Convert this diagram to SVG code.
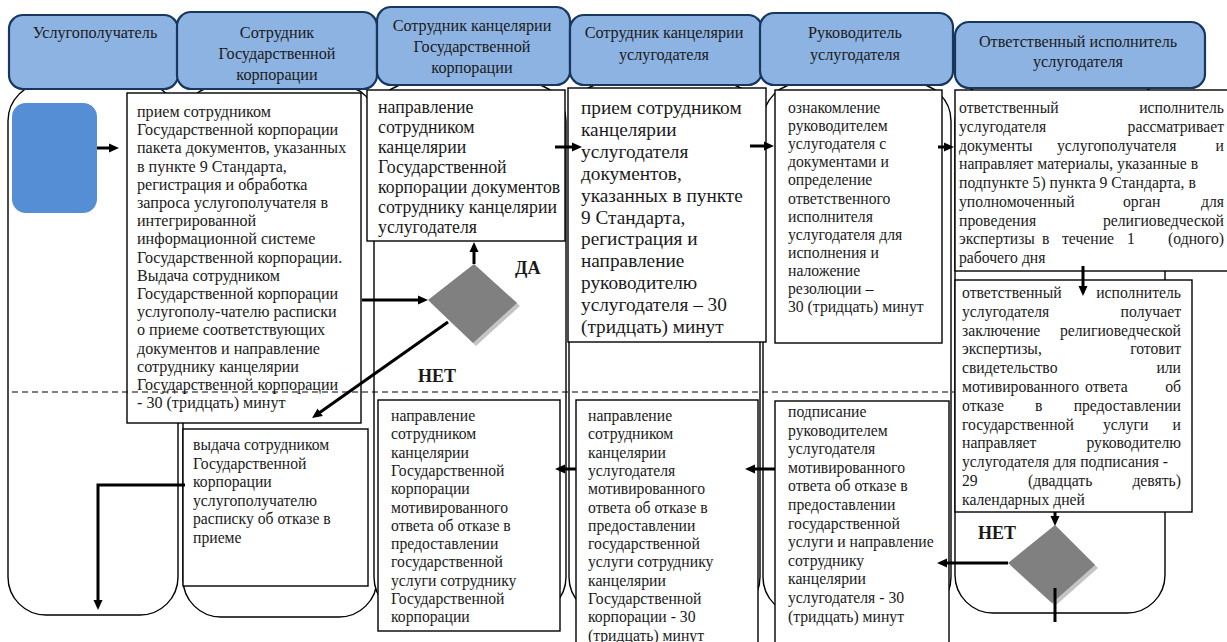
<svg xmlns="http://www.w3.org/2000/svg" width="1227" height="642" viewBox="0 0 1227 642">
<style>
.lane{fill:#fff;stroke:#000;stroke-width:1.4}
.hdr{fill:#8DB3E2;stroke:#17375E;stroke-width:2.2}
.ht{font-family:'Liberation Serif','Times New Roman','DejaVu Serif',serif;font-size:16.2px;fill:#1a1a1a;text-anchor:middle}
.box{fill:#fff;stroke:#000;stroke-width:1.4}
.t{font-family:'Liberation Serif','Times New Roman','DejaVu Serif',serif;font-size:15.7px;fill:#1a1a1a}
.t1{font-family:'Liberation Serif','Times New Roman','DejaVu Serif',serif;font-size:16.1px;fill:#1a1a1a}
.t3{font-family:'Liberation Serif','Times New Roman','DejaVu Serif',serif;font-size:17.8px;fill:#1a1a1a}
.t4{font-family:'Liberation Serif','Times New Roman','DejaVu Serif',serif;font-size:19.3px;fill:#1a1a1a}
.e{text-anchor:end}
.c{fill:none;stroke:#000;stroke-width:3}
.lbl{font-family:'Liberation Serif','Times New Roman','DejaVu Serif',serif;font-size:18px;font-weight:bold;fill:#1a1a1a}
.dia{fill:#808080}
.sh{fill:#C4C4C4}
</style>
<defs>
<marker id="ah" markerUnits="userSpaceOnUse" viewBox="0 0 10 10" markerWidth="10" markerHeight="10" refX="1" refY="5" orient="auto">
<path d="M0,0.5 L10,5 L0,9.5 z" fill="#000"/>
</marker>
</defs>

<g id="lanes">
<rect class="lane" x="8" y="83" width="170" height="532" rx="38"/>
<rect class="lane" x="183" y="85" width="194" height="532" rx="38"/>
<rect class="lane" x="374" y="83" width="192" height="532" rx="38"/>
<rect class="lane" x="569" y="83" width="191" height="532" rx="38"/>
<rect class="lane" x="763" y="83" width="188" height="532" rx="38"/>
<rect class="lane" x="955" y="83" width="210" height="530" rx="38"/>
</g>

<g id="headers">
<g id="h1"><rect class="hdr" x="9" y="15" width="169" height="74" rx="14"/><text class="ht" x="95" y="38">Услугополучатель</text></g>
<g id="h2"><rect class="hdr" x="177" y="12" width="200" height="77" rx="14"/><text class="ht" x="277" y="38">Сотрудник<tspan x="277" dy="21">Государственной</tspan><tspan x="277" dy="21">корпорации</tspan></text></g>
<g id="h3"><rect class="hdr" x="377" y="7" width="193" height="78" rx="14"/><text class="ht" x="472" y="31">Сотрудник канцелярии<tspan x="472" dy="21">Государственной</tspan><tspan x="472" dy="21">корпорации</tspan></text></g>
<g id="h4"><rect class="hdr" x="570" y="15" width="192" height="70" rx="14"/><text class="ht" x="664" y="38">Сотрудник канцелярии<tspan x="664" dy="22">услугодателя</tspan></text></g>
<g id="h5"><rect class="hdr" x="760" y="13" width="193" height="72" rx="14"/><text class="ht" x="855" y="38">Руководитель<tspan x="855" dy="22">услугодателя</tspan></text></g>
<g id="h6"><rect class="hdr" x="955" y="22" width="250" height="66" rx="14"/><text class="ht" x="1078" y="47">Ответственный исполнитель<tspan x="1078" dy="20">услугодателя</tspan></text></g>
</g>

<g id="start"><rect x="12" y="103" width="85" height="110" rx="14" fill="#558ED5"/></g>

<g id="n1"><rect class="box" x="127" y="93" width="234" height="330"/>
<text class="t1" x="137" y="117">прием сотрудником<tspan x="137" dy="18.2">Государственной корпорации</tspan><tspan x="137" dy="18.2">пакета документов, указанных</tspan><tspan x="137" dy="18.2">в пункте 9 Стандарта,</tspan><tspan x="137" dy="18.2">регистрация и обработка</tspan><tspan x="137" dy="18.2">запроса услугополучателя в</tspan><tspan x="137" dy="18.2">интегрированной</tspan><tspan x="137" dy="18.2">информационной системе</tspan><tspan x="137" dy="18.2">Государственной корпорации.</tspan><tspan x="137" dy="18.2">Выдача сотрудником</tspan><tspan x="137" dy="18.2">Государственной корпорации</tspan><tspan x="137" dy="18.2">услугополу-чателю расписки</tspan><tspan x="137" dy="18.2">о приеме соответствующих</tspan><tspan x="137" dy="18.2">документов и направление</tspan><tspan x="137" dy="18.2">сотруднику канцелярии</tspan><tspan x="137" dy="18.2">Государственной корпорации</tspan><tspan x="137" dy="18.2">- 30 (тридцать) минут</tspan></text></g>

<g id="n2"><rect class="box" x="183" y="429" width="185" height="157"/>
<text class="t" x="193" y="450">выдача сотрудником<tspan x="193" dy="18.6">Государственной</tspan><tspan x="193" dy="18.6">корпорации</tspan><tspan x="193" dy="18.6">услугополучателю</tspan><tspan x="193" dy="18.6">расписку об отказе в</tspan><tspan x="193" dy="18.6">приеме</tspan></text></g>

<g id="n3"><rect class="box" x="367" y="90" width="198" height="151"/>
<text class="t3" x="378" y="113">направление<tspan x="378" dy="20">сотрудником</tspan><tspan x="378" dy="20">канцелярии</tspan><tspan x="378" dy="20">Государственной</tspan><tspan x="378" dy="20">корпорации документов</tspan><tspan x="378" dy="20">сотруднику  канцелярии</tspan><tspan x="378" dy="20">услугодателя</tspan></text></g>

<g id="n4"><rect class="box" x="378" y="400" width="182" height="231"/>
<text class="t" x="391" y="421">направление<tspan x="391" dy="18.3">сотрудником</tspan><tspan x="391" dy="18.3">канцелярии</tspan><tspan x="391" dy="18.3">Государственной</tspan><tspan x="391" dy="18.3">корпорации</tspan><tspan x="391" dy="18.3">мотивированного</tspan><tspan x="391" dy="18.3">ответа об отказе в</tspan><tspan x="391" dy="18.3">предоставлении</tspan><tspan x="391" dy="18.3">государственной</tspan><tspan x="391" dy="18.3">услуги сотруднику</tspan><tspan x="391" dy="18.3">Государственной</tspan><tspan x="391" dy="18.3">корпорации</tspan></text></g>

<g id="n5"><rect class="box" x="568" y="88" width="198" height="254"/>
<text class="t4" x="581" y="114">прием сотрудником<tspan x="581" dy="21.9">канцелярии</tspan><tspan x="581" dy="21.9">услугодателя</tspan><tspan x="581" dy="21.9">документов,</tspan><tspan x="581" dy="21.9">указанных в пункте</tspan><tspan x="581" dy="21.9">9 Стандарта,</tspan><tspan x="581" dy="21.9">регистрация и</tspan><tspan x="581" dy="21.9">направление</tspan><tspan x="581" dy="21.9">руководителю</tspan><tspan x="581" dy="21.9">услугодателя – 30</tspan><tspan x="581" dy="21.9">(тридцать) минут</tspan></text></g>

<g id="n6"><rect class="box" x="576" y="400" width="182" height="250"/>
<text class="t" x="588" y="421">направление<tspan x="588" dy="18.3">сотрудником</tspan><tspan x="588" dy="18.3">канцелярии</tspan><tspan x="588" dy="18.3">услугодателя</tspan><tspan x="588" dy="18.3">мотивированного</tspan><tspan x="588" dy="18.3">ответа об отказе в</tspan><tspan x="588" dy="18.3">предоставлении</tspan><tspan x="588" dy="18.3">государственной</tspan><tspan x="588" dy="18.3">услуги сотруднику</tspan><tspan x="588" dy="18.3">канцелярии</tspan><tspan x="588" dy="18.3">Государственной</tspan><tspan x="588" dy="18.3">корпорации - 30</tspan><tspan x="588" dy="18.3">(тридцать) минут</tspan></text></g>

<g id="n7"><rect class="box" x="775" y="90" width="167" height="253"/>
<text class="t" x="788" y="113">ознакомление<tspan x="788" dy="18.1">руководителем</tspan><tspan x="788" dy="18.1">услугодателя с</tspan><tspan x="788" dy="18.1">документами и</tspan><tspan x="788" dy="18.1">определение</tspan><tspan x="788" dy="18.1">ответственного</tspan><tspan x="788" dy="18.1">исполнителя</tspan><tspan x="788" dy="18.1">услугодателя для</tspan><tspan x="788" dy="18.1">исполнения и</tspan><tspan x="788" dy="18.1">наложение</tspan><tspan x="788" dy="18.1">резолюции –</tspan><tspan x="788" dy="18.1">30 (тридцать) минут</tspan></text></g>

<g id="n8"><rect class="box" x="775" y="401" width="174" height="250"/>
<text class="t" x="788" y="417">подписание<tspan x="788" dy="18.6">руководителем</tspan><tspan x="788" dy="18.6">услугодателя</tspan><tspan x="788" dy="18.6">мотивированного</tspan><tspan x="788" dy="18.6">ответа об отказе в</tspan><tspan x="788" dy="18.6">предоставлении</tspan><tspan x="788" dy="18.6">государственной</tspan><tspan x="788" dy="18.6">услуги и направление</tspan><tspan x="788" dy="18.6">сотруднику</tspan><tspan x="788" dy="18.6">канцелярии</tspan><tspan x="788" dy="18.6">услугодателя - 30</tspan><tspan x="788" dy="18.6">(тридцать) минут</tspan></text></g>

<g id="n9"><rect class="box" x="955" y="90" width="290" height="181"/>
<g class="t">
<text x="959" y="113">ответственный</text><text class="e" x="1224" y="113">исполнитель</text>
<text x="959" y="131.75">услугодателя</text><text class="e" x="1224" y="131.75">рассматривает</text>
<text x="959" y="150.5">документы</text><text x="1057" y="150.5">услугополучателя</text><text class="e" x="1224" y="150.5">и</text>
<text x="959" y="169.25">направляет материалы, указанные в</text>
<text x="959" y="188">подпункте 5) пункта 9 Стандарта, в</text>
<text x="959" y="206.75">уполномоченный</text><text x="1123" y="206.75">орган</text><text class="e" x="1224" y="206.75">для</text>
<text x="959" y="225.5">проведения</text><text class="e" x="1224" y="225.5">религиоведческой</text>
<text x="959" y="244.25">экспертизы</text><text x="1042" y="244.25">в</text><text x="1062" y="244.25">течение</text><text x="1127" y="244.25">1</text><text class="e" x="1224" y="244.25">(одного)</text>
<text x="959" y="263">рабочего дня</text>
</g></g>

<g id="n10"><rect class="box" x="955" y="280" width="237" height="232"/>
<g class="t">
<text x="962" y="298">ответственный</text><text class="e" x="1181" y="298">исполнитель</text>
<text x="962" y="316.8">услугодателя</text><text class="e" x="1181" y="316.8">получает</text>
<text x="962" y="335.6">заключение</text><text class="e" x="1181" y="335.6">религиоведческой</text>
<text x="962" y="354.4">экспертизы,</text><text class="e" x="1181" y="354.4">готовит</text>
<text x="962" y="373.2">свидетельство</text><text class="e" x="1181" y="373.2">или</text>
<text x="962" y="392">мотивированного</text><text x="1085" y="392">ответа</text><text class="e" x="1181" y="392">об</text>
<text x="962" y="410.8">отказе</text><text x="1035" y="410.8">в</text><text class="e" x="1181" y="410.8">предоставлении</text>
<text x="962" y="429.6">государственной</text><text x="1103" y="429.6">услуги</text><text class="e" x="1181" y="429.6">и</text>
<text x="962" y="448.4">направляет</text><text class="e" x="1181" y="448.4">руководителю</text>
<text x="962" y="467.2">услугодателя для подписания -</text>
<text x="962" y="486">29</text><text x="1028" y="486">(двадцать</text><text class="e" x="1181" y="486">девять)</text>
<text x="962" y="504.8">календарных дней</text>
</g></g>

<g id="d1"><path class="sh" d="M477,267 L520,306 L476,346 L431,303 z"/><path class="dia" d="M474,264 L517,303 L473,343 L428,300 z"/></g>
<g id="d2"><path class="sh" d="M1058,528 L1098,568 L1055,606 L1011,566 z"/><path class="dia" d="M1055,525 L1095,565 L1052,603 L1008,563 z"/></g>

<line x1="12" y1="392" x2="955" y2="392" stroke="#000" stroke-width="1.2" stroke-dasharray="6,4"/>

<g id="connectors">
<line class="c" x1="97" y1="148" x2="110" y2="148" marker-end="url(#ah)"/>
<line class="c" x1="362" y1="300" x2="419" y2="300" marker-end="url(#ah)"/>
<line class="c" x1="474" y1="264" x2="474" y2="251" marker-end="url(#ah)"/>
<line class="c" x1="448" y1="322" x2="319.4" y2="412.8" marker-end="url(#ah)"/>
<polyline class="c" points="185,485 98,485 98,601" marker-end="url(#ah)"/>
<line class="c" x1="555" y1="147" x2="573" y2="147" marker-end="url(#ah)"/>
<line class="c" x1="750" y1="146" x2="765" y2="146" marker-end="url(#ah)"/>
<line class="c" x1="938" y1="147" x2="945" y2="147" marker-end="url(#ah)"/>
<line class="c" x1="1083" y1="266" x2="1083" y2="287" marker-end="url(#ah)"/>
<line class="c" x1="1055" y1="512" x2="1055" y2="517" marker-end="url(#ah)"/>
<line class="c" x1="1055" y1="588" x2="1055" y2="622"/>
<line class="c" x1="1008" y1="563" x2="946" y2="563" marker-end="url(#ah)"/>
<line class="c" x1="775" y1="469" x2="754" y2="469" marker-end="url(#ah)"/>
<line class="c" x1="576" y1="469" x2="564" y2="469" marker-end="url(#ah)"/>
</g>

<g id="labels">
<text class="lbl" x="515" y="274">ДА</text>
<text class="lbl" x="418" y="382">НЕТ</text>
<text class="lbl" x="978" y="539">НЕТ</text>
</g>
</svg>
